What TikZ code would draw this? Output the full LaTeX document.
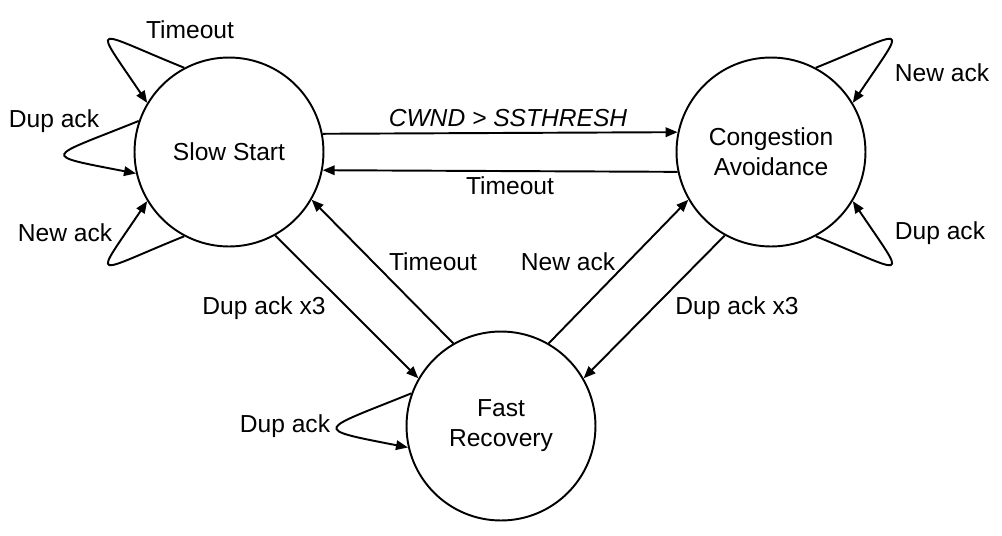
\documentclass[tikz,border=0pt]{standalone}
\usepackage{fontspec}
\setmainfont{Liberation Sans}
\usetikzlibrary{arrows.meta}
\begin{document}
\begin{tikzpicture}[x=0.02cm,y=-0.02cm,
  state/.style={circle,draw,line width=1.1pt,minimum size=3.78cm,inner sep=0pt,align=center,
    font=\fontsize{14}{17}\selectfont},
  lbl/.style={inner sep=1pt,font=\fontsize{14}{17}\selectfont},
  edge/.style={line width=1.1pt,-{Triangle[length=2.4mm,width=1.9mm]}}]
\useasboundingbox (0,0) rectangle (1002,535);
\node[state] (ss) at (229,152) {Slow Start};
\node[state] (ca) at (771,152) {Congestion\\Avoidance};
\node[state] (fr) at (501,426) {Fast\\Recovery};

% straight transitions
\draw[edge] (ss.11.5) -- (ca.168.5);
\draw[edge] (ca.-168.5) -- (ss.-11.5);
\draw[edge] (ss.-61) -- (fr.150);
\draw[edge] (fr.120) -- (ss.-30);
\draw[edge] (fr.60) -- (ca.-150);
\draw[edge] (ca.-119) -- (fr.30);

% self loops
\draw[edge] (ss.118) .. controls +(158:2.0cm) and +(124:2.0cm) .. (ss.149);
\draw[edge] (ss.161) .. controls +(202:2.0cm) and +(169:2.0cm) .. (ss.193);
\draw[edge] (ss.242) .. controls +(202:2.0cm) and +(236:2.0cm) .. (ss.211);
\draw[edge] (ca.62) .. controls +(22:2.0cm) and +(56:2.0cm) .. (ca.31);
\draw[edge] (ca.-62) .. controls +(-22:2.0cm) and +(-56:2.0cm) .. (ca.-31);
\draw[edge] (fr.160) .. controls +(202:2.0cm) and +(169:2.0cm) .. (fr.193);

% labels
\node[lbl] (l1) at (190,30) {Timeout};
\node[lbl] (l2) at (54,121) {Dup ack};
\node[lbl] (l3) at (65,233) {New ack};
\node[lbl] (l4) at (508,118) {\itshape CWND > SSTHRESH};
\node[lbl] (l5) at (510,186) {Timeout};
\node[lbl] (l6) at (433,262) {Timeout};
\node[lbl] (l7) at (568,262) {New ack};
\node[lbl] (l8) at (264,308) {Dup ack x3};
\node[lbl] (l9) at (737,308) {Dup ack x3};
\node[lbl] (l10) at (942,73) {New ack};
\node[lbl] (l11) at (940,233) {Dup ack};
\node[lbl] (l12) at (285,426) {Dup ack};
\end{tikzpicture}
\end{document}
